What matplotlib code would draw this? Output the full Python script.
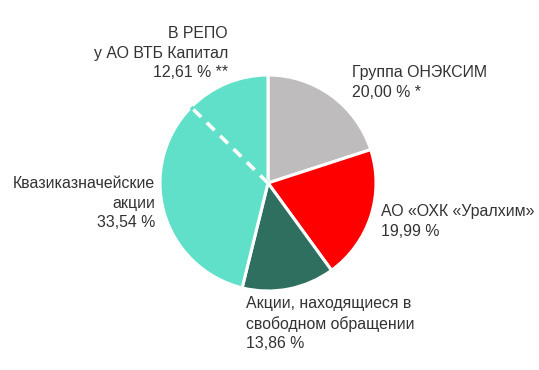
import numpy as np
import matplotlib.pyplot as plt

# shareholder structure, clockwise from the top
labels = ["Группа ОНЭКСИМ\n20,00 % *",
          "АО «ОХК «Уралхим»\n19,99 %",
          "Акции, находящиеся в\nсвободном обращении\n13,86 %",
          "Квазиказначейские\nакции\n33,54 %",
          "В РЕПО\nу АО ВТБ Капитал\n12,61 % **"]
shares = [20.00, 19.99, 13.86, 33.54, 12.61]
colors = ["#bebcbc", "#ff0000", "#2f6f60", "#60e0c8", "#60e0c8"]

W, H = 539, 370
fig = plt.figure(figsize=(W / 100, H / 100), dpi=100)
ax = fig.add_axes([0, 0, 1, 1])

wedges, _ = ax.pie(shares, colors=colors, startangle=90, counterclock=False,
                   center=(268, H - 183), radius=108,
                   wedgeprops=dict(edgecolor="white", linewidth=2.2))
ax.set_xlim(0, W)
ax.set_ylim(0, H)
ax.set_aspect("equal")
ax.axis("off")

# boundary between treasury shares and REPO is dashed
w = wedges[4]
ang = np.deg2rad(w.theta2)
cx, cy = w.center
x2 = cx + w.r * np.cos(ang)
y2 = cy + w.r * np.sin(ang)
ax.plot([cx, x2], [cy, y2], color=colors[3], lw=3, solid_capstyle="butt", zorder=3)
ax.plot([cx, x2], [cy, y2], color="white", lw=2.6, dashes=(3, 2.2), zorder=4)

txt = dict(fontsize=11.4, color="#333333", family="Liberation Sans", linespacing=1.38)
ax.text(352, H - 65, labels[0], ha="left", va="top", **txt)
ax.text(381, H - 204, labels[1], ha="left", va="top", **txt)
ax.text(246, H - 296, labels[2], ha="left", va="top", **txt)
ax.text(155, H - 176, labels[3], ha="right", va="top", multialignment="right", **txt)
ax.text(228, H - 26, labels[4], ha="right", va="top", multialignment="right", **txt)

fig.savefig("out.png", dpi=100)
